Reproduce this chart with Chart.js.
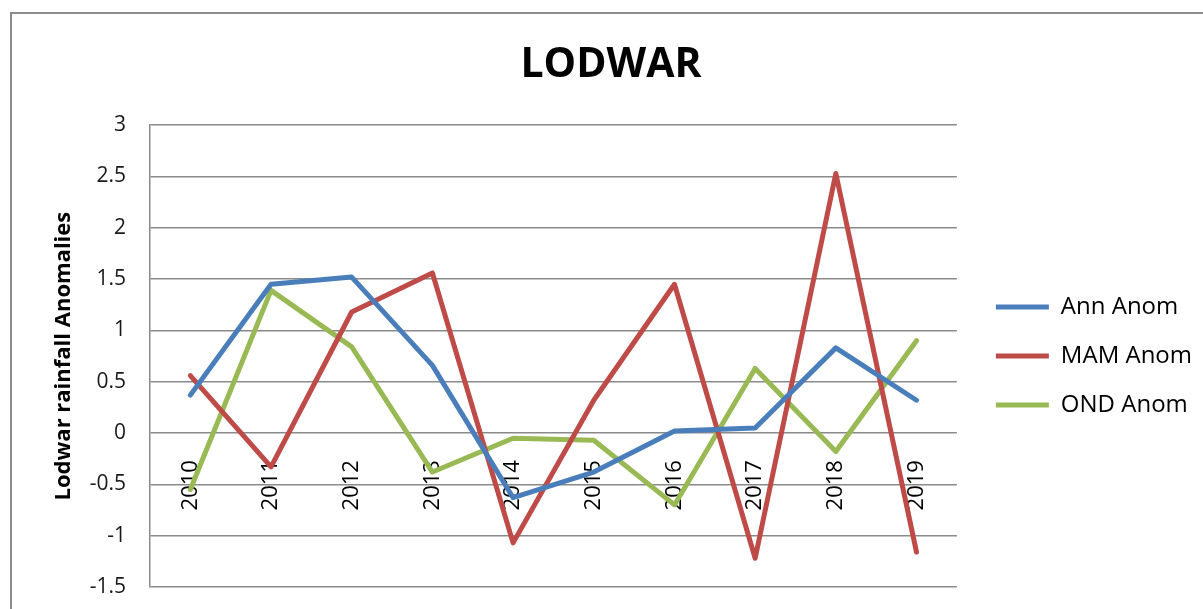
<!DOCTYPE html>
<html lang="en">
<head>
    <meta charset="UTF-8">
    <title>LODWAR</title>
    <script src="https://cdn.jsdelivr.net/npm/chart.js"></script>
    <style>
        body {
            margin: 0;
            background-color: #fff;
            overflow: hidden;
            font-family: "Open Sans", sans-serif;
        }

        .frame {
            position: absolute;
            left: 10px;
            top: 12px;
            width: 1198px;
            height: 630px;
            border: 2px solid #8c8c8c;
        }
    </style>
</head>
<body>
    <div class="frame">
        <canvas id="myChart" width="1198" height="630"></canvas>
    </div>

    <script>
        // Data
        const years = ['2010', '2011', '2012', '2013', '2014', '2015', '2016', '2017', '2018', '2019'];
        const annAnom = [0.37, 1.45, 1.52, 0.66, -0.63, -0.38, 0.02, 0.05, 0.83, 0.32];
        const mamAnom = [0.56, -0.33, 1.18, 1.56, -1.07, 0.32, 1.45, -1.22, 2.53, -1.16];
        const ondAnom = [-0.55, 1.39, 0.84, -0.38, -0.05, -0.07, -0.70, 0.63, -0.18, 0.90];

        const gridColor = '#8a8a8a';
        const fontFamily = '"Open Sans", sans-serif';

        function series(label, values, color) {
            return {
                label: label,
                data: values,
                borderColor: color,
                backgroundColor: color,
                borderWidth: 5,
                borderJoinStyle: 'round',
                borderCapStyle: 'round',
                pointRadius: 0,
                pointHoverRadius: 0,
                tension: 0,
                yAxisID: 'y',
                pointStyle: 'line'
            };
        }

        const ctx = document.getElementById('myChart').getContext('2d');

        new Chart(ctx, {
            type: 'line',
            data: {
                labels: years,
                datasets: [
                    series('Ann Anom', annAnom, '#4a7ebb'),
                    series('MAM Anom', mamAnom, '#be4b48'),
                    series('OND Anom', ondAnom, '#98b954')
                ]
            },
            options: {
                responsive: false,
                animation: false,
                layout: {
                    padding: { top: 0, left: 8, right: 8, bottom: 57 }
                },
                plugins: {
                    title: {
                        display: true,
                        text: 'LODWAR',
                        color: '#000',
                        font: { family: fontFamily, size: 41, weight: 'bold' },
                        padding: { top: 27, bottom: 35 }
                    },
                    legend: {
                        position: 'right',
                        fullSize: false,
                        labels: {
                            usePointStyle: true,
                            pointStyleWidth: 53,
                            padding: 25,
                            color: '#000',
                            font: { family: fontFamily, size: 24 }
                        }
                    },
                    tooltip: { enabled: false }
                },
                scales: {
                    x: {
                        type: 'category',
                        offset: true,
                        position: { y: 0 },
                        grid: { display: false },
                        border: { display: false },
                        ticks: {
                            autoSkip: false,
                            minRotation: 90,
                            maxRotation: 90,
                            padding: 19,
                            color: '#000',
                            font: { family: fontFamily, size: 22 }
                        },
                        afterFit: function (scale) { scale.height = 0; }
                    },
                    y: {
                        position: 'left',
                        min: -1.5,
                        max: 3,
                        grid: {
                            color: gridColor,
                            lineWidth: 1.5,
                            drawTicks: false
                        },
                        border: { display: true, color: gridColor, width: 1.5 },
                        ticks: {
                            stepSize: 0.5,
                            padding: 24,
                            color: '#1a1a1a',
                            font: { family: fontFamily, size: 21 },
                            callback: function (v) { return String(v); }
                        },
                        title: {
                            display: true,
                            text: 'Lodwar rainfall Anomalies',
                            color: '#000',
                            font: { family: fontFamily, size: 22, weight: 'bold' },
                            padding: { top: 31 }
                        },
                        afterFit: function (scale) { scale.width = 130; }
                    },
                    // hidden axis, only keeps a gap between plot and legend
                    gap: {
                        type: 'linear',
                        position: 'right',
                        display: false,
                        afterFit: function (scale) { scale.width = 14; }
                    }
                }
            }
        });
    </script>
</body>
</html>
